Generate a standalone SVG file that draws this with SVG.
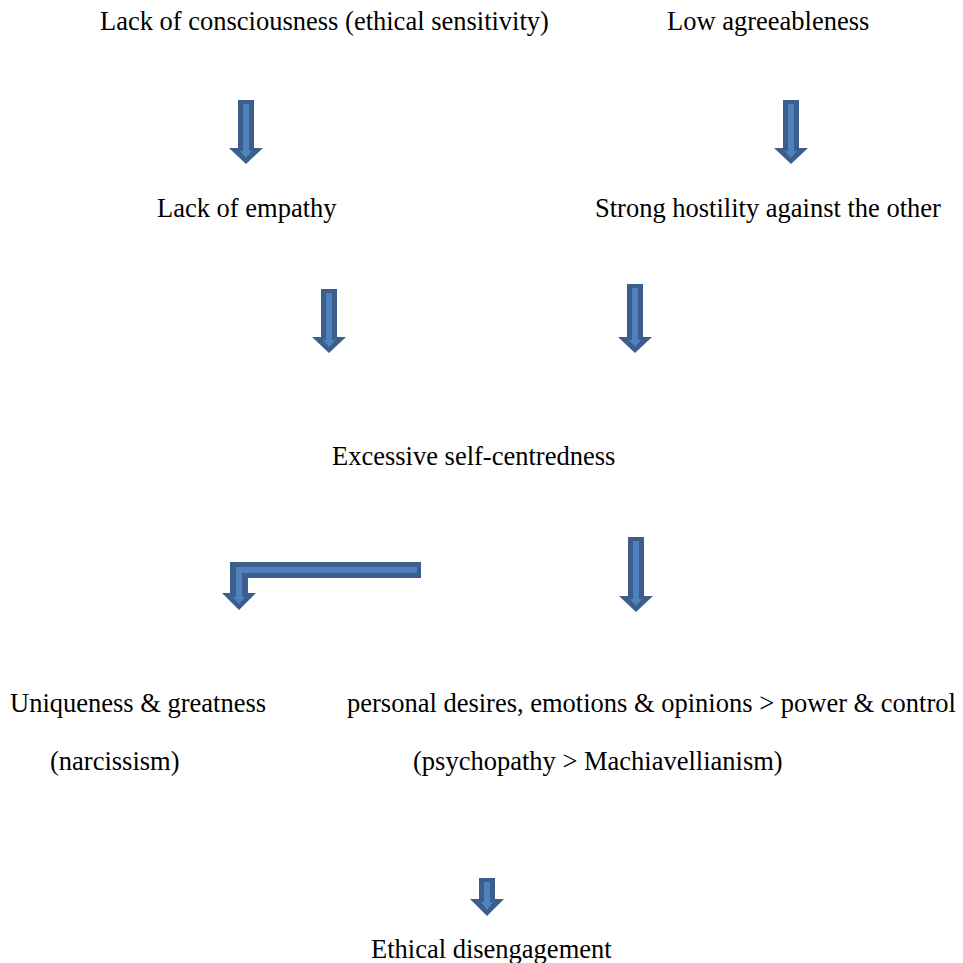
<svg xmlns="http://www.w3.org/2000/svg" width="963" height="963" viewBox="0 0 963 963">
<style>
text{font-family:"Liberation Serif","Times New Roman",serif;font-size:26.5px;fill:#000}
.ao{fill:#3b5e8d}
.ai{fill:#4f81bd}
</style>
<rect width="963" height="963" fill="#fff"/>
<g id="n1"><text x="100" y="30">Lack of consciousness (ethical sensitivity)</text></g>
<g id="n2"><text x="667" y="30">Low agreeableness</text></g>
<g id="n3"><text x="157" y="217">Lack of empathy</text></g>
<g id="n4"><text x="595" y="217">Strong hostility against the other</text></g>
<g id="n5"><text x="332" y="465">Excessive self-centredness</text></g>
<g id="n6"><text x="10" y="712">Uniqueness &amp; greatness</text><text x="50" y="770">(narcissism)</text></g>
<g id="n7"><text x="347" y="712">personal desires, emotions &amp; opinions &gt; power &amp; control</text><text x="413" y="770">(psychopathy &gt; Machiavellianism)</text></g>
<g id="n8"><text x="371" y="958">Ethical disengagement</text></g>
<g id="connectors">
<g transform="translate(246,100)"><polygon class="ao" points="-8,0 8,0 8,48 17,48 0,64 -17,48 -8,48"/><polygon class="ai" points="-3,4 3,4 3,51 6,51 0,58 -6,51 -3,51"/></g>
<g transform="translate(791,100)"><polygon class="ao" points="-8,0 8,0 8,48 17,48 0,64 -17,48 -8,48"/><polygon class="ai" points="-3,4 3,4 3,51 6,51 0,58 -6,51 -3,51"/></g>
<g transform="translate(329,289)"><polygon class="ao" points="-8,0 8,0 8,48 17,48 0,64 -17,48 -8,48"/><polygon class="ai" points="-3,4 3,4 3,51 6,51 0,58 -6,51 -3,51"/></g>
<g transform="translate(635,284)"><polygon class="ao" points="-8,0 8,0 8,53 17,53 0,69 -17,53 -8,53"/><polygon class="ai" points="-3,4 3,4 3,56 6,56 0,63 -6,56 -3,56"/></g>
<g transform="translate(636,537)"><polygon class="ao" points="-8,0 8,0 8,59 17,59 0,75 -17,59 -8,59"/><polygon class="ai" points="-3,4 3,4 3,62 6,62 0,69 -6,62 -3,62"/></g>
<g transform="translate(487,878)"><polygon class="ao" points="-8,0 8,0 8,21 17,21 0,38 -17,21 -8,21"/><polygon class="ai" points="-3,4 3,4 3,24 6,24 0,32 -6,24 -3,24"/></g>
<g><polygon class="ao" points="421,562 421,578 248,578 248,593 256,593 239,610 222,593 230,593 230,562"/><polygon class="ai" points="417,567 417,573 242,573 242,597 245,597 239,604 233,597 236,597 236,567"/></g>
</g>
</svg>
